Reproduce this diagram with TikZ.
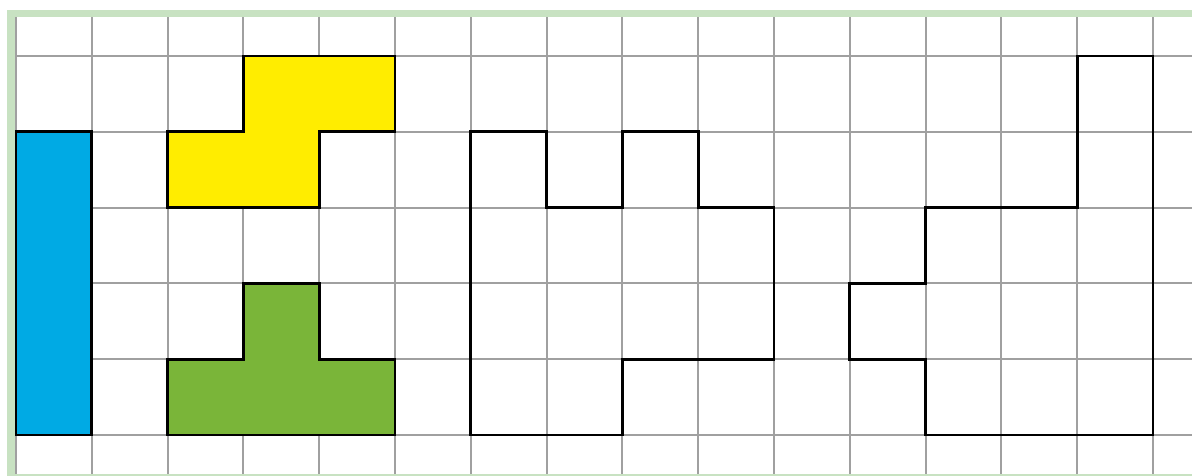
\documentclass[tikz,border=0pt]{standalone}
\definecolor{framegreen}{RGB}{200,226,194}
\definecolor{tileblue}{RGB}{0,170,228}
\definecolor{tileyellow}{RGB}{255,237,0}
\definecolor{tilegreen}{RGB}{122,181,57}
\begin{document}
\begin{tikzpicture}[
    gridline/.style={draw={rgb,255:red,160;green,160;blue,160}, line width=0.75pt},
    tile/.style={draw=black, line width=1.1pt, line join=miter},
    frameline/.style={draw=framegreen, line width=0.105cm}
  ]
  \useasboundingbox (-0.211,-0.528) rectangle (15.515,5.739);
  \clip (-0.211,-0.528) rectangle (15.515,5.739);

  % Grid
  \draw[gridline] (0,-0.6) grid (15.6,5.51);

  % Frame
  \draw[frameline] (-0.066,-0.567) rectangle (16,5.561);

  % Coloured pieces
  \draw[tile, fill=tileblue] (0,0) rectangle (1,4);
  \draw[tile, fill=tileyellow] (3,5) -- (5,5) -- (5,4) -- (4,4) -- (4,3) -- (2,3) -- (2,4) -- (3,4) -- cycle;
  \draw[tile, fill=tilegreen] (3,2) -- (4,2) -- (4,1) -- (5,1) -- (5,0) -- (2,0) -- (2,1) -- (3,1) -- cycle;

  % Outlines to fill
  \draw[tile] (6,4) -- (7,4) -- (7,3) -- (8,3) -- (8,4) -- (9,4) -- (9,3) -- (10,3) -- (10,1) -- (8,1) -- (8,0) -- (6,0) -- cycle;
  \draw[tile] (14,5) -- (15,5) -- (15,0) -- (12,0) -- (12,1) -- (11,1) -- (11,2) -- (12,2) -- (12,3) -- (14,3) -- cycle;
\end{tikzpicture}
\end{document}
